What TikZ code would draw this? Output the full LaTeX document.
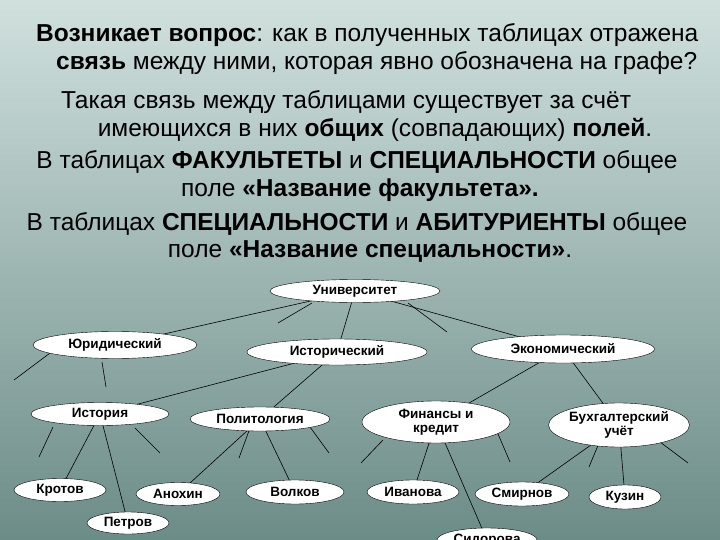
\documentclass[tikz,border=0pt]{standalone}
\usepackage{fontspec}
\setmainfont{Liberation Sans}
\usetikzlibrary{shapes.geometric}
\definecolor{bgtop}{HTML}{D0E0DD}
\definecolor{bgbot}{HTML}{6C8C88}
\tikzset{
  el/.style={ellipse,draw=black,fill=white,inner sep=0pt,font=\fontsize{13.5}{14}\selectfont\bfseries,align=center},
  ln/.style={draw=black,line width=0.6pt},
  tx/.style={font=\fontsize{24.5}{27}\selectfont,inner sep=0pt}
}
\begin{document}
\begin{tikzpicture}[x=1pt,y=-1pt]
\shade[top color=bgtop,bottom color=bgbot] (0,0) rectangle (720,540);
\useasboundingbox (0,0) rectangle (720,540);
% text
\node[tx,anchor=west] (t1) at (36,35) {\textbf{Возникает вопрос}: как в полученных таблицах отражена};
\node[tx,anchor=west] (t2) at (56,63) {\textbf{связь} между ними, которая явно обозначена на графе?};
\node[tx] (t3) at (346,102) {Такая связь между таблицами существует за счёт};
\node[tx] (t4) at (375,130) {имеющихся в них \textbf{общих} (совпадающих) \textbf{полей}.};
\node[tx] (t5) at (357,162) {В таблицах \textbf{ФАКУЛЬТЕТЫ} и \textbf{СПЕЦИАЛЬНОСТИ} общее};
\node[tx] (t6) at (360,190) {поле \textbf{«Название факультета».}};
\node[tx] (t7) at (357,224) {В таблицах \textbf{СПЕЦИАЛЬНОСТИ} и \textbf{АБИТУРИЕНТЫ} общее};
\node[tx] (t8) at (370,252) {поле \textbf{«Название специальности»}.};
% edges first (nodes drawn later on top)
\coordinate (u) at (355,291);
\coordinate (yu) at (115,345);
\coordinate (is) at (337,352);
\coordinate (ek) at (563,349);
\coordinate (ist) at (100,414);
\coordinate (pol) at (260,419);
\coordinate (fin) at (436,422);
\coordinate (bu) at (619,425);
\coordinate (kr) at (60,490);
\coordinate (an) at (178,494);
\coordinate (vo) at (295,492);
\coordinate (iv) at (413,492);
\coordinate (sm) at (522,494);
\coordinate (ku) at (625,497);
\coordinate (pe) at (128,523);
\coordinate (si) at (487,540);
\draw[ln] (u)--(yu) (u)--(is) (u)--(ek) (is)--(ist) (is)--(pol) (ek)--(fin) (ek)--(bu)
 (ist)--(kr) (ist)--(pe) (pol)--(an) (pol)--(vo) (fin)--(iv) (fin)--(si) (bu)--(sm) (bu)--(ku);
% stubs
\draw[ln] (312,303)--(278,323) (408,303)--(447,332)
 (50,353)--(14,380) (102,362)--(106,387)
 (53,427)--(39,457) (135,428)--(160,453)
 (250,428)--(239,458) (310,427)--(329,453)
 (383,440)--(361,463) (495,427)--(510,462)
 (599,443)--(589,467) (660,442)--(688,463);
% nodes
\node[el,minimum width=170,minimum height=23] (nu) at (u) {Университет};
\node[el,minimum width=164,minimum height=27] (nyu) at (yu) {Юридический};
\node[el,minimum width=180,minimum height=26] (nis) at (is) {Исторический};
\node[el,minimum width=183,minimum height=28] (nek) at (ek) {Экономический};
\node[el,minimum width=138,minimum height=23] (nist) at (ist) {История};
\node[el,minimum width=140,minimum height=24] (npol) at (pol) {Политология};
\node[el,minimum width=148,minimum height=42] (nfin) at (fin) {Финансы и\\кредит};
\node[el,minimum width=138,minimum height=44] (nbu) at (bu) {Бухгалтерский\\учёт};
\node[el,minimum width=92,minimum height=23] (nkr) at (kr) {Кротов};
\node[el,minimum width=84,minimum height=23] (nan) at (an) {Анохин};
\node[el,minimum width=98,minimum height=24] (nvo) at (vo) {Волков};
\node[el,minimum width=92,minimum height=24] (niv) at (iv) {Иванова};
\node[el,minimum width=94,minimum height=24] (nsm) at (sm) {Смирнов};
\node[el,minimum width=72,minimum height=24] (nku) at (ku) {Кузин};
\node[el,minimum width=82,minimum height=22] (npe) at (pe) {Петров};
\node[el,minimum width=100,minimum height=24] (nsi) at (si) {Сидорова};
\end{tikzpicture}
\end{document}
